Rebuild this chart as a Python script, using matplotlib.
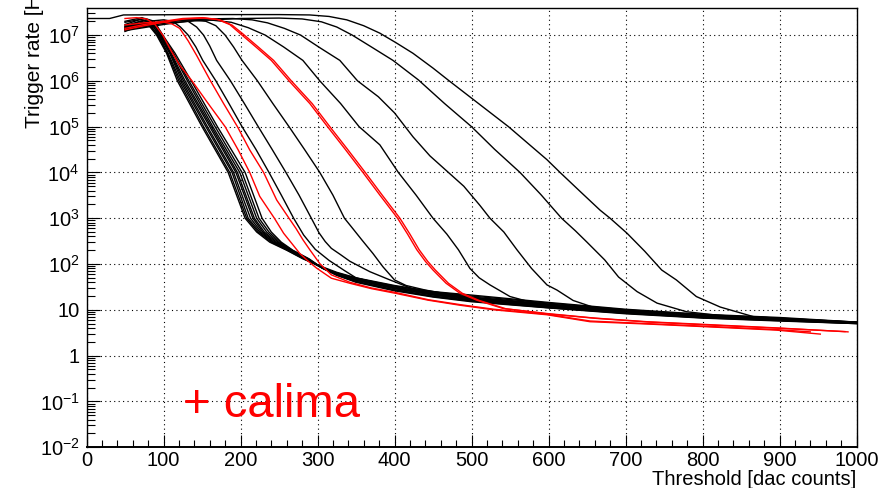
import matplotlib
matplotlib.use("Agg")
import matplotlib.pyplot as plt
from matplotlib.ticker import FixedLocator, MultipleLocator, NullFormatter, FixedFormatter

plt.rcParams['font.family'] = ['Liberation Sans', 'DejaVu Sans']
plt.rcParams['mathtext.fontset'] = 'custom'
plt.rcParams['mathtext.rm'] = 'Liberation Sans'
plt.rcParams['mathtext.it'] = 'Liberation Sans:italic'
plt.rcParams['mathtext.bf'] = 'Liberation Sans:bold'

# ---------------- data: (threshold [dac counts], trigger rate [Hz]) ----------------
black_c1 = [(50, 1.3e7), (70, 1.8e7), (80, 1.7e7), (91, 1.0e7), (104, 4e6), (118, 1e6), (150, 1e5), (184, 1e4), (206, 1e3), (221, 500), (238, 300), (260, 200), (281, 130), (300, 95), (325, 66), (350, 50), (400, 34), (450, 25), (500, 21), (600, 14.5), (700, 10.3), (800, 8.0), (900, 6.8), (1000, 5.4)]
black_c2 = [(50, 1.5e7), (70, 2.0e7), (82, 1.8e7), (92, 1e7), (105, 4e6), (120, 1e6), (152, 1e5), (186, 1e4), (208, 1e3), (223, 500), (240, 300), (261, 200), (282, 130), (301, 93), (325, 61), (350, 44), (400, 29), (450, 21), (500, 16.5), (600, 11.7), (700, 8.7), (800, 7.0), (900, 6.0), (1000, 5.1)]
black_c3 = [(50, 1.2e7), (70, 1.6e7), (82, 1.6e7), (93, 1e7), (106, 4e6), (122, 1e6), (155, 1e5), (189, 1e4), (210, 1e3), (225, 500), (242, 300), (262, 200), (283, 130), (302, 90), (325, 63), (350, 47), (400, 31.5), (450, 23.5), (500, 19), (600, 13.4), (700, 9.7), (800, 7.6), (900, 6.5), (1000, 5.3)]
black_c4 = [(50, 1.7e7), (70, 2.2e7), (83, 1.9e7), (94, 1e7), (108, 4e6), (124, 1e6), (157, 1e5), (191, 1e4), (213, 1e3), (227, 500), (243, 300), (263, 200), (284, 130), (303, 88), (325, 57), (350, 40), (400, 26), (450, 19), (500, 15), (600, 11.0), (700, 8.2), (800, 6.6), (900, 5.7), (1000, 5.0)]
black_c5 = [(50, 1.4e7), (72, 1.9e7), (84, 1.8e7), (95, 1e7), (109, 4e6), (126, 1e6), (160, 1e5), (194, 1e4), (216, 1e3), (229, 500), (245, 300), (264, 200), (285, 130), (304, 86), (325, 61), (350, 46), (400, 30), (450, 22), (500, 17.5), (600, 12.5), (700, 9.2), (800, 7.3), (900, 6.2), (1000, 5.2)]
black_c6 = [(50, 2.0e7), (72, 2.4e7), (85, 2.0e7), (96, 1e7), (110, 4e6), (128, 1e6), (162, 1e5), (196, 1e4), (218, 1e3), (231, 500), (247, 300), (265, 200), (286, 130), (305, 84), (325, 58), (350, 42), (400, 27.5), (450, 20), (500, 16), (600, 11.3), (700, 8.5), (800, 6.8), (900, 5.9), (1000, 5.05)]
black_c7 = [(50, 1.6e7), (74, 2.1e7), (86, 1.9e7), (97, 1e7), (112, 4e6), (131, 1e6), (164, 1e5), (199, 1e4), (221, 1e3), (234, 500), (249, 300), (266, 200), (287, 130), (306, 82), (325, 64), (350, 49), (400, 33), (450, 24.5), (500, 20), (600, 14), (700, 10), (800, 7.8), (900, 6.6), (1000, 5.35)]
black_c8 = [(50, 1.35e7), (74, 1.8e7), (87, 1.7e7), (98, 1e7), (113, 4e6), (133, 1e6), (167, 1e5), (202, 1e4), (224, 1e3), (237, 500), (251, 300), (267, 200), (288, 130), (307, 80), (325, 57), (350, 41), (400, 27), (450, 19.5), (500, 15.5), (600, 11.1), (700, 8.4), (800, 6.7), (900, 5.8), (1000, 5.0)]
black_c9 = [(50, 1.9e7), (76, 2.3e7), (88, 2.0e7), (99, 1e7), (115, 4e6), (136, 1e6), (170, 1e5), (206, 1e4), (228, 1e3), (240, 500), (253, 300), (268, 200), (289, 130), (308, 78), (325, 60), (350, 45), (400, 29.5), (450, 21.5), (500, 17.5), (600, 12.2), (700, 9.0), (800, 7.2), (900, 6.1), (1000, 5.2)]
black_b1 = [(50, 1.5e7), (80, 2.0e7), (100, 2.15e7), (112, 2.0e7), (122, 1.5e7), (132, 1e7), (142, 5.5e6), (151, 2.8e6), (168, 1e6), (185, 3.2e5), (202, 1e5), (220, 3.2e4), (237, 1e4), (253, 3.2e3), (269, 1e3), (282, 430), (297, 210), (315, 120), (335, 72), (350, 50), (400, 31), (450, 23), (500, 18.5), (600, 13.0), (700, 9.5), (800, 7.5), (900, 6.4), (1000, 5.3)]
black_b2 = [(50, 1.35e7), (90, 1.8e7), (120, 2.1e7), (132, 2.0e7), (143, 1.5e7), (152, 1e7), (160, 5.8e6), (169, 2.8e6), (187, 1e6), (205, 3.2e5), (223, 1e5), (241, 3.2e4), (259, 1e4), (276, 3.2e3), (292, 1e3), (302, 480), (310, 310), (318, 220), (330, 160), (342, 115), (368, 68), (394, 45), (430, 26), (500, 17), (600, 12), (700, 8.9), (800, 7.1), (900, 6.1), (1000, 5.15)]
black_b3 = [(50, 1.25e7), (100, 1.7e7), (140, 2.1e7), (155, 2.0e7), (168, 1.6e7), (180, 1e7), (191, 5.5e6), (202, 2.8e6), (222, 1e6), (242, 3.2e5), (263, 1e5), (283, 3.2e4), (303, 1e4), (320, 3.2e3), (335, 1e3), (344, 650), (358, 330), (372, 170), (385, 87), (400, 45), (415, 34), (440, 27), (500, 18), (600, 12.8), (700, 9.4), (800, 7.4), (900, 6.3), (1000, 5.25)]
black_b4 = [(50, 1.4e7), (100, 1.9e7), (140, 2.2e7), (165, 2.1e7), (188, 1.9e7), (210, 1.45e7), (232, 1e7), (256, 5.5e6), (281, 2.8e6), (303, 1e6), (330, 3.2e5), (354, 1e5), (381, 4e4), (405, 1e4), (428, 3.2e3), (450, 1e3), (468, 450), (483, 205), (498, 80), (510, 50), (524, 35), (550, 19.5), (575, 15), (600, 12.8), (700, 9.6), (800, 7.5), (900, 6.4), (1000, 5.3)]
black_b5 = [(50, 1.5e7), (100, 2.0e7), (150, 2.25e7), (190, 2.3e7), (215, 2.15e7), (235, 1.85e7), (257, 1.4e7), (278, 1e7), (303, 5.3e6), (329, 2.8e6), (352, 1e6), (379, 4.5e5), (400, 2e5), (424, 6e4), (446, 2.3e4), (470, 1e4), (490, 5e3), (511, 1.9e3), (524, 1e3), (542, 500), (559, 205), (578, 80), (598, 35), (611, 27), (632, 16), (663, 10.7), (700, 9.4), (800, 7.3), (900, 6.2), (1000, 5.2)]
black_b6 = [(50, 1.3e7), (100, 1.8e7), (150, 2.1e7), (200, 2.3e7), (250, 2.35e7), (280, 2.25e7), (305, 1.95e7), (325, 1.5e7), (345, 1.0e7), (370, 5.5e6), (398, 2.8e6), (431, 1.05e6), (465, 3.2e5), (500, 1e5), (530, 3.2e4), (563, 1e4), (590, 3.3e3), (617, 1e3), (635, 530), (650, 300), (673, 123), (691, 52), (715, 25), (741, 14), (779, 9.1), (820, 7.6), (900, 6.4), (1000, 5.3)]
black_b7 = [(0, 2.3e7), (30, 2.3e7), (48, 2.75e7), (150, 2.8e7), (250, 2.8e7), (290, 2.75e7), (315, 2.55e7), (338, 2.15e7), (360, 1.6e7), (381, 1.1e7), (402, 6.8e6), (424, 4e6), (450, 1.9e6), (471, 1e6), (500, 4.2e5), (548, 1e5), (598, 1.9e4), (615, 1e4), (640, 4e3), (667, 1.5e3), (680, 1e3), (702, 470), (725, 190), (747, 74), (766, 45), (792, 19.5), (823, 11.5), (866, 7.1), (900, 6.5), (1000, 5.4)]

red_1 = [(50, 2.3e7), (65, 2.4e7), (78, 2.25e7), (89, 1.7e7), (99, 1e7), (110, 4.5e6), (121, 2.2e6), (137, 1e6), (158, 3.2e5), (180, 1e5), (197, 3.1e4), (212, 1e4), (225, 3e3), (244, 1e3), (256, 470), (266, 290), (277, 170), (288, 115), (299, 81), (318, 49), (342, 38), (370, 29), (401, 23), (444, 16.2), (485, 12.6), (529, 10), (598, 7.8), (654, 5.5), (728, 4.9), (814, 4.2), (896, 3.6), (953, 2.95)]
red_2 = [(50, 1.66e7), (75, 1.85e7), (99, 1.95e7), (111, 1.75e7), (121, 1.4e7), (132, 7.5e6), (143, 3.6e6), (161, 1e6), (178, 3.2e5), (196, 1e5), (212, 3.1e4), (230, 1e4), (247, 2.5e3), (263, 1e3), (272, 600), (281, 340), (290, 205), (303, 102), (318, 58), (342, 40), (370, 30), (401, 24), (444, 16.6), (485, 13), (529, 10.3), (598, 8.0), (654, 5.7), (728, 5.0), (814, 4.3), (896, 3.7), (940, 3.3)]
red_p1 = [(50, 1.4e7), (75, 1.7e7), (100, 2.0e7), (125, 2.3e7), (151, 2.4e7), (170, 2.2e7), (186, 1.7e7), (199, 1.1e7), (220, 5.5e6), (240, 2.8e6), (263, 1e6), (290, 3.2e5), (313, 1e5), (336, 3.2e4), (359, 1e4), (381, 3.2e3), (404, 1e3), (417, 450), (429, 205), (440, 115), (450, 74), (467, 38), (485, 23), (507, 16.2), (541, 10.7), (598, 8.3), (660, 6.6), (728, 5.5), (814, 4.7), (900, 4.0), (989, 3.3)]
red_p2 = [(50, 1.3e7), (75, 1.6e7), (100, 1.9e7), (127, 2.25e7), (153, 2.35e7), (173, 2.15e7), (189, 1.65e7), (202, 1.1e7), (223, 5.5e6), (243, 2.8e6), (266, 1e6), (293, 3.2e5), (316, 1e5), (339, 3.2e4), (362, 1e4), (384, 3.2e3), (407, 1e3), (420, 450), (432, 205), (443, 115), (453, 74), (470, 38), (488, 23), (510, 16), (545, 10.5), (600, 8.1), (662, 6.5), (730, 5.4), (816, 4.6), (900, 3.95), (985, 3.35)]

black_curves = [black_c1, black_c2, black_c3, black_c4, black_c5, black_c6, black_c7,
                black_c8, black_c9, black_b1, black_b2, black_b3, black_b4, black_b5,
                black_b6, black_b7]
red_curves = [red_1, red_2, red_p1, red_p2]

ytick_values = [1e-2, 1e-1, 1, 10, 1e2, 1e3, 1e4, 1e5, 1e6, 1e7]
ytick_labels = [r'$\mathregular{10^{-2}}$', r'$\mathregular{10^{-1}}$', '1', '10',
                r'$\mathregular{10^{2}}$', r'$\mathregular{10^{3}}$', r'$\mathregular{10^{4}}$',
                r'$\mathregular{10^{5}}$', r'$\mathregular{10^{6}}$', r'$\mathregular{10^{7}}$']
xtick_values = [0, 100, 200, 300, 400, 500, 600, 700, 800, 900, 1000]
xtick_labels = ['0', '100', '200', '300', '400', '500', '600', '700', '800', '900', '1000']

# ---------------- figure ----------------
W, H = 881, 488
fig = plt.figure(figsize=(W / 100, H / 100), dpi=100)
ax = fig.add_axes([86.5 / W, 1 - 447.2 / H, 770 / W, (447.2 - 8) / H])

for c in black_curves:
    xs, ys = zip(*c)
    ax.plot(xs, ys, color='black', lw=1.0, solid_joinstyle='round')
for c in red_curves:
    xs, ys = zip(*c)
    ax.plot(xs, ys, color='#ff0000', lw=1.0, solid_joinstyle='round')

ax.set_yscale('log')
ax.set_xlim(0, 1000)
ax.set_ylim(1e-2, 3.9e7)

ax.yaxis.set_major_locator(FixedLocator(ytick_values))
ax.yaxis.set_major_formatter(FixedFormatter(ytick_labels))
minor_y = [m * 10.0 ** e for e in range(-2, 8) for m in range(2, 10)]
ax.yaxis.set_minor_locator(FixedLocator(minor_y))
ax.yaxis.set_minor_formatter(NullFormatter())
ax.xaxis.set_major_locator(FixedLocator(xtick_values))
ax.xaxis.set_major_formatter(FixedFormatter(xtick_labels))
ax.xaxis.set_minor_locator(MultipleLocator(20))

ax.tick_params(axis='both', which='both', direction='in', top=False, right=False,
               width=0.8, labelsize=14.5)
ax.tick_params(axis='y', which='major', length=9.5, pad=5)
ax.tick_params(axis='y', which='minor', length=6)
ax.tick_params(axis='x', which='major', length=9, pad=3)
ax.tick_params(axis='x', which='minor', length=5)

ax.grid(True, which='major', color='black', linestyle=(0, (1, 3)), lw=0.8)
for s in ax.spines.values():
    s.set_linewidth(1.0)
ax.spines['bottom'].set_linewidth(1.4)

fig.text(856.5 / W, 1 - 479.5 / H, 'Threshold [dac counts]', ha='right', va='center', fontsize=14.5)
fig.text(35 / W, 1 - 128 / H, 'Trigger rate [Hz]', rotation=90, ha='center', va='bottom', fontsize=15)
fig.text(183 / W, 1 - 405 / H, '+ calima', color='#ff0000', ha='left', va='center', fontsize=34)

fig.savefig('out.png', dpi=100)
